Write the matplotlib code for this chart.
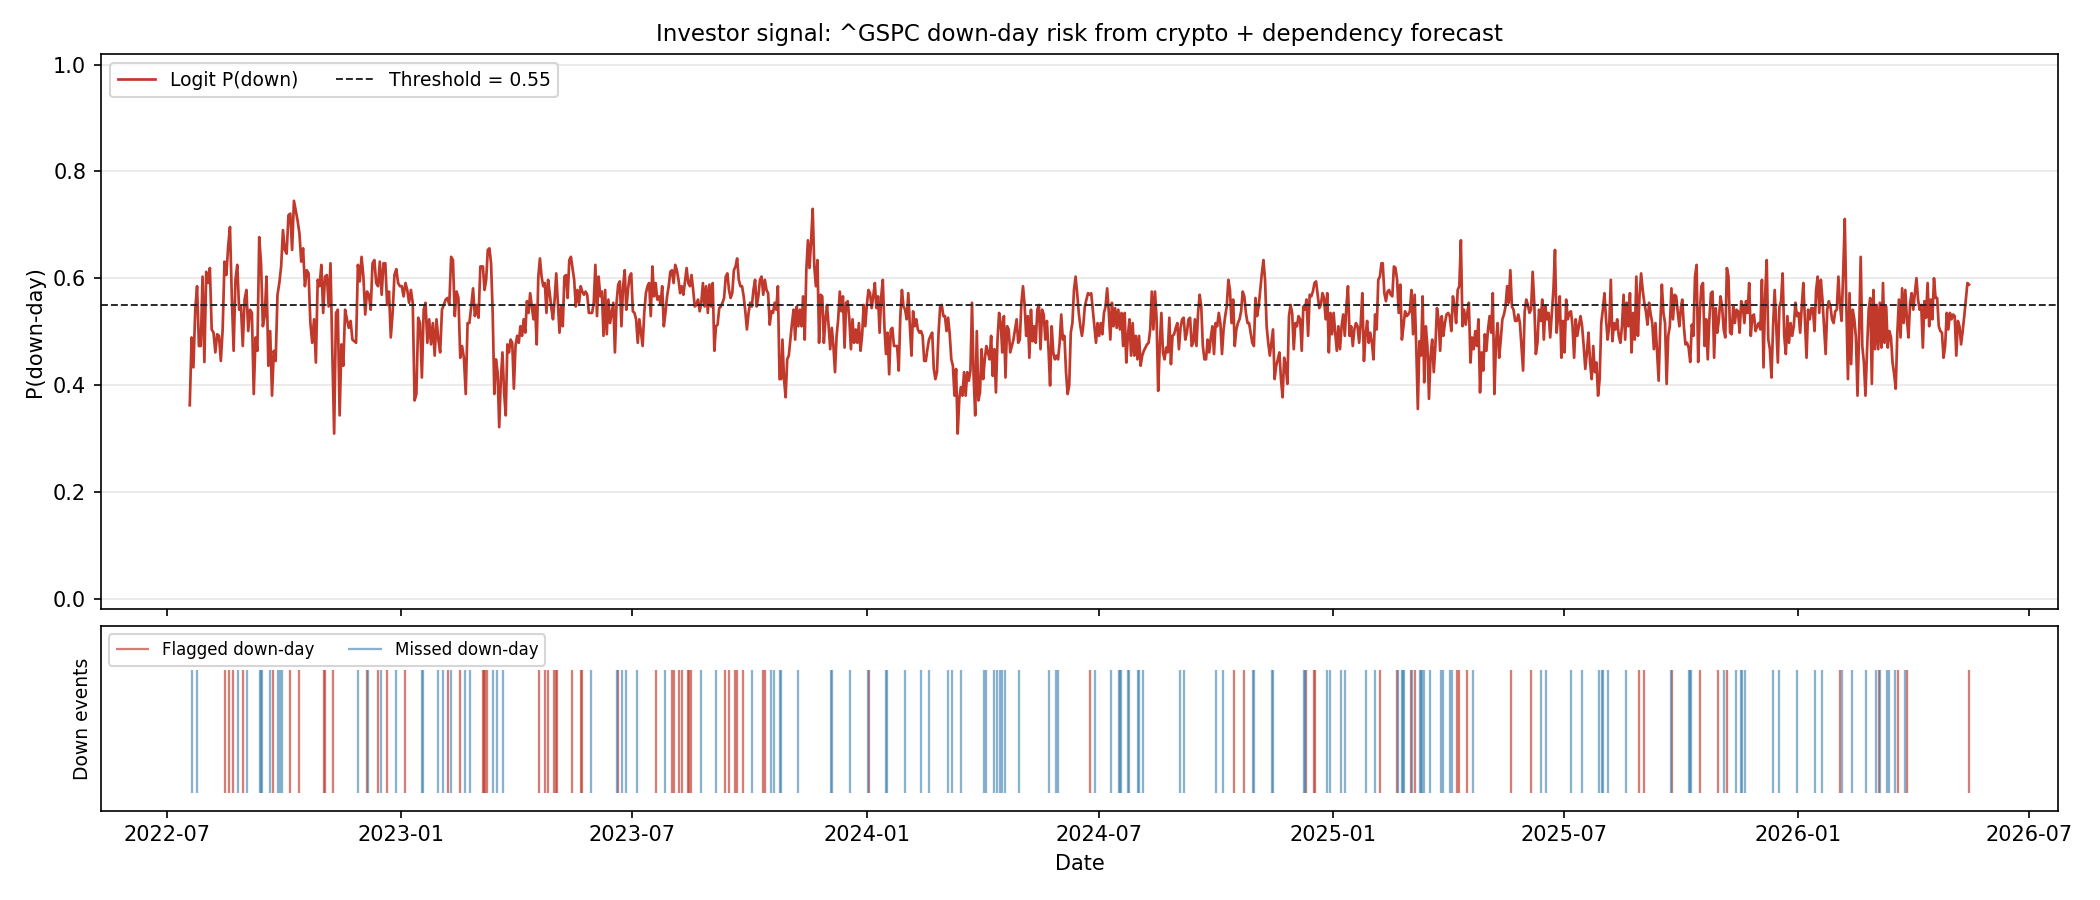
import pandas as pd
import matplotlib
matplotlib.use("Agg")
import matplotlib.pyplot as plt
import matplotlib.dates as mdates

THRESH = 0.55

# окна, в которых снимались значения P(down) (по порядку)
seg_start = ["2022-07-19", "2023-03-06", "2023-10-27", "2024-06-19", "2025-02-09", "2025-10-02"]
seg_end = ["2023-03-04", "2023-10-26", "2024-06-18", "2025-02-08", "2025-10-01", "2026-05-15"]

p_seg1 = [0.362, 0.489, 0.433, 0.541, 0.585, 0.473, 0.473, 0.603, 0.443, 0.612, 0.591, 0.619, 0.504, 0.498,
          0.461, 0.495, 0.492, 0.445, 0.504, 0.631, 0.606, 0.659, 0.696, 0.566, 0.464, 0.597, 0.625, 0.541,
          0.547, 0.473, 0.560, 0.578, 0.501, 0.541, 0.535, 0.383, 0.489, 0.464, 0.677, 0.628, 0.510, 0.529,
          0.603, 0.436, 0.501, 0.380, 0.464, 0.445, 0.569, 0.591, 0.622, 0.690, 0.653, 0.646, 0.718, 0.721,
          0.653, 0.745, 0.727, 0.708, 0.684, 0.631, 0.656, 0.585, 0.615, 0.609, 0.516, 0.479, 0.523, 0.442,
          0.597, 0.585, 0.625, 0.535, 0.603, 0.606, 0.547, 0.628, 0.461, 0.309, 0.535, 0.541, 0.343, 0.476,
          0.436, 0.541, 0.523, 0.507, 0.520, 0.485, 0.482, 0.479, 0.625, 0.594, 0.640, 0.603, 0.532, 0.575,
          0.569, 0.541, 0.628, 0.634, 0.591, 0.585, 0.631, 0.569, 0.628, 0.628, 0.550, 0.575, 0.489, 0.535,
          0.606, 0.617, 0.591, 0.585, 0.585, 0.566, 0.591, 0.578, 0.554, 0.578, 0.554, 0.371, 0.383, 0.526,
          0.516, 0.414, 0.541, 0.554, 0.479, 0.523, 0.476, 0.516, 0.455, 0.523, 0.485, 0.461, 0.541, 0.550,
          0.560, 0.563, 0.550, 0.640, 0.634, 0.529, 0.575, 0.563, 0.451, 0.473, 0.451, 0.383, 0.516, 0.516,
          0.547, 0.581, 0.529, 0.550, 0.526, 0.622]
p_seg2 = [0.622, 0.578, 0.597, 0.653, 0.656, 0.628, 0.535, 0.383, 0.448, 0.424, 0.321, 0.411, 0.461, 0.386,
          0.343, 0.476, 0.461, 0.485, 0.479, 0.393, 0.473, 0.492, 0.479, 0.510, 0.492, 0.523, 0.498, 0.557,
          0.535, 0.572, 0.547, 0.523, 0.550, 0.476, 0.603, 0.637, 0.603, 0.585, 0.591, 0.535, 0.597, 0.572,
          0.544, 0.523, 0.560, 0.609, 0.554, 0.498, 0.547, 0.510, 0.603, 0.606, 0.563, 0.634, 0.640, 0.619,
          0.597, 0.547, 0.578, 0.554, 0.585, 0.575, 0.569, 0.575, 0.569, 0.535, 0.535, 0.535, 0.554, 0.625,
          0.529, 0.603, 0.566, 0.575, 0.492, 0.578, 0.495, 0.560, 0.516, 0.535, 0.554, 0.461, 0.554, 0.588,
          0.594, 0.510, 0.585, 0.615, 0.541, 0.578, 0.603, 0.609, 0.538, 0.535, 0.523, 0.479, 0.523, 0.498,
          0.473, 0.535, 0.572, 0.585, 0.591, 0.529, 0.622, 0.566, 0.591, 0.560, 0.566, 0.550, 0.585, 0.510,
          0.535, 0.566, 0.585, 0.612, 0.615, 0.591, 0.625, 0.615, 0.597, 0.572, 0.585, 0.569, 0.594, 0.619,
          0.591, 0.585, 0.606, 0.578, 0.547, 0.550, 0.560, 0.538, 0.554, 0.591, 0.547, 0.585, 0.535, 0.588,
          0.547, 0.591, 0.464, 0.510, 0.513, 0.544, 0.547, 0.554, 0.563, 0.603, 0.609, 0.578, 0.563, 0.572,
          0.615, 0.622, 0.637, 0.597, 0.585, 0.585, 0.566, 0.538, 0.504, 0.535, 0.554, 0.547, 0.578, 0.597,
          0.547, 0.566, 0.597, 0.603, 0.569, 0.597, 0.578, 0.572, 0.513, 0.538, 0.535, 0.554, 0.541, 0.585,
          0.411, 0.411]
p_seg3 = [0.485, 0.411, 0.377, 0.448, 0.455, 0.485, 0.516, 0.541, 0.485, 0.547, 0.510, 0.541, 0.510, 0.566,
          0.485, 0.615, 0.671, 0.619, 0.671, 0.730, 0.622, 0.585, 0.634, 0.479, 0.569, 0.566, 0.479, 0.523,
          0.550, 0.510, 0.467, 0.507, 0.473, 0.424, 0.492, 0.523, 0.575, 0.538, 0.566, 0.470, 0.554, 0.557,
          0.523, 0.467, 0.523, 0.479, 0.504, 0.479, 0.516, 0.464, 0.492, 0.550, 0.510, 0.550, 0.578, 0.572,
          0.544, 0.566, 0.591, 0.544, 0.566, 0.498, 0.566, 0.597, 0.510, 0.458, 0.498, 0.420, 0.504, 0.507,
          0.473, 0.473, 0.473, 0.427, 0.529, 0.578, 0.547, 0.541, 0.523, 0.572, 0.510, 0.455, 0.538, 0.510,
          0.523, 0.504, 0.498, 0.501, 0.492, 0.445, 0.445, 0.467, 0.485, 0.492, 0.498, 0.430, 0.411, 0.424,
          0.498, 0.547, 0.550, 0.529, 0.529, 0.501, 0.526, 0.495, 0.448, 0.436, 0.380, 0.430, 0.309, 0.374,
          0.396, 0.380, 0.424, 0.380, 0.424, 0.408, 0.427, 0.554, 0.417, 0.343, 0.501, 0.371, 0.386, 0.467,
          0.411, 0.448, 0.473, 0.461, 0.448, 0.492, 0.417, 0.467, 0.386, 0.485, 0.535, 0.516, 0.461, 0.529,
          0.414, 0.510, 0.504, 0.461, 0.473, 0.485, 0.504, 0.523, 0.479, 0.485, 0.554, 0.585, 0.550, 0.492,
          0.529, 0.451, 0.541, 0.482, 0.510, 0.479, 0.541, 0.550, 0.467, 0.541, 0.532, 0.485, 0.520, 0.467,
          0.399, 0.510, 0.461, 0.448, 0.455, 0.448, 0.479, 0.532, 0.485, 0.492, 0.424, 0.383, 0.399, 0.498,
          0.516, 0.578, 0.603, 0.572, 0.535, 0.510, 0.492]
p_seg4 = [0.510, 0.547, 0.560, 0.572, 0.569, 0.572, 0.541, 0.510, 0.479, 0.516, 0.492, 0.516, 0.495, 0.535,
          0.547, 0.581, 0.538, 0.485, 0.554, 0.510, 0.544, 0.507, 0.541, 0.504, 0.535, 0.473, 0.535, 0.442,
          0.492, 0.523, 0.455, 0.516, 0.455, 0.492, 0.448, 0.492, 0.436, 0.455, 0.464, 0.470, 0.476, 0.479,
          0.504, 0.575, 0.504, 0.575, 0.523, 0.389, 0.473, 0.535, 0.461, 0.448, 0.470, 0.461, 0.526, 0.439,
          0.492, 0.495, 0.507, 0.516, 0.467, 0.507, 0.523, 0.526, 0.485, 0.498, 0.523, 0.526, 0.473, 0.479,
          0.523, 0.473, 0.535, 0.569, 0.547, 0.473, 0.448, 0.448, 0.485, 0.461, 0.489, 0.510, 0.458, 0.516,
          0.510, 0.535, 0.516, 0.458, 0.504, 0.529, 0.547, 0.597, 0.578, 0.516, 0.560, 0.473, 0.504, 0.516,
          0.523, 0.538, 0.575, 0.566, 0.535, 0.516, 0.516, 0.498, 0.479, 0.473, 0.563, 0.529, 0.547, 0.578,
          0.609, 0.634, 0.597, 0.510, 0.479, 0.455, 0.479, 0.504, 0.411, 0.436, 0.448, 0.461, 0.411, 0.377,
          0.451, 0.436, 0.402, 0.529, 0.550, 0.535, 0.467, 0.516, 0.510, 0.529, 0.523, 0.464, 0.547, 0.541,
          0.560, 0.492, 0.569, 0.566, 0.575, 0.591, 0.594, 0.569, 0.544, 0.550, 0.572, 0.563, 0.523, 0.572,
          0.461, 0.535, 0.495, 0.535, 0.498, 0.464, 0.510, 0.467, 0.510, 0.532, 0.492, 0.547, 0.585, 0.492,
          0.510, 0.473, 0.504, 0.516, 0.510, 0.479, 0.516, 0.572, 0.445, 0.492, 0.520, 0.479, 0.498, 0.479,
          0.448, 0.532, 0.504, 0.597, 0.603, 0.628]
p_seg5 = [0.628, 0.572, 0.557, 0.575, 0.578, 0.569, 0.566, 0.622, 0.619, 0.597, 0.535, 0.588, 0.485, 0.510,
          0.538, 0.529, 0.532, 0.538, 0.578, 0.495, 0.569, 0.473, 0.355, 0.482, 0.455, 0.566, 0.405, 0.510,
          0.473, 0.374, 0.455, 0.485, 0.424, 0.473, 0.544, 0.523, 0.464, 0.529, 0.492, 0.516, 0.532, 0.535,
          0.529, 0.501, 0.566, 0.547, 0.516, 0.578, 0.585, 0.671, 0.510, 0.541, 0.513, 0.535, 0.554, 0.442,
          0.489, 0.467, 0.501, 0.473, 0.523, 0.386, 0.461, 0.427, 0.495, 0.464, 0.504, 0.529, 0.498, 0.572,
          0.383, 0.479, 0.516, 0.451, 0.485, 0.523, 0.532, 0.547, 0.585, 0.554, 0.615, 0.547, 0.541, 0.520,
          0.520, 0.532, 0.516, 0.470, 0.427, 0.538, 0.560, 0.550, 0.535, 0.541, 0.612, 0.554, 0.458, 0.479,
          0.541, 0.520, 0.560, 0.485, 0.547, 0.523, 0.535, 0.489, 0.535, 0.578, 0.653, 0.498, 0.529, 0.566,
          0.451, 0.520, 0.461, 0.560, 0.523, 0.535, 0.538, 0.510, 0.451, 0.523, 0.492, 0.510, 0.529, 0.510,
          0.473, 0.430, 0.461, 0.498, 0.442, 0.411, 0.473, 0.424, 0.442, 0.380, 0.411, 0.516, 0.541, 0.572,
          0.523, 0.485, 0.510, 0.597, 0.482, 0.516, 0.504, 0.523, 0.492, 0.479, 0.510, 0.569, 0.485, 0.554,
          0.510, 0.572, 0.461, 0.535, 0.485, 0.603, 0.492, 0.566, 0.609, 0.578, 0.554, 0.538, 0.513, 0.554,
          0.532, 0.516, 0.467, 0.516, 0.461, 0.408, 0.510, 0.588, 0.535, 0.516, 0.402, 0.492, 0.510, 0.581,
          0.523, 0.569, 0.566, 0.535, 0.510, 0.547]
p_seg6 = [0.560, 0.510, 0.476, 0.479, 0.470, 0.443, 0.513, 0.492, 0.603, 0.625, 0.443, 0.535, 0.585, 0.591,
          0.473, 0.523, 0.448, 0.523, 0.572, 0.575, 0.451, 0.544, 0.498, 0.523, 0.566, 0.547, 0.504, 0.489,
          0.619, 0.603, 0.498, 0.495, 0.547, 0.516, 0.541, 0.538, 0.498, 0.557, 0.547, 0.516, 0.557, 0.535,
          0.591, 0.492, 0.529, 0.532, 0.501, 0.510, 0.516, 0.504, 0.597, 0.433, 0.566, 0.634, 0.485, 0.467,
          0.414, 0.510, 0.578, 0.510, 0.442, 0.547, 0.557, 0.609, 0.492, 0.458, 0.529, 0.479, 0.516, 0.492,
          0.510, 0.554, 0.529, 0.535, 0.498, 0.547, 0.591, 0.523, 0.451, 0.541, 0.523, 0.544, 0.544, 0.501,
          0.578, 0.603, 0.535, 0.597, 0.560, 0.510, 0.458, 0.541, 0.557, 0.547, 0.523, 0.516, 0.538, 0.541,
          0.603, 0.550, 0.520, 0.609, 0.711, 0.547, 0.411, 0.572, 0.439, 0.541, 0.523, 0.489, 0.380, 0.498,
          0.640, 0.473, 0.442, 0.380, 0.467, 0.541, 0.563, 0.402, 0.578, 0.467, 0.550, 0.467, 0.554, 0.470,
          0.591, 0.479, 0.547, 0.470, 0.501, 0.489, 0.442, 0.420, 0.393, 0.498, 0.560, 0.489, 0.581, 0.516,
          0.578, 0.523, 0.489, 0.554, 0.572, 0.541, 0.572, 0.600, 0.560, 0.541, 0.550, 0.470, 0.557, 0.526,
          0.591, 0.510, 0.560, 0.523, 0.600, 0.563, 0.563, 0.510, 0.501, 0.498, 0.451, 0.473, 0.535, 0.504,
          0.535, 0.523, 0.532, 0.529, 0.455, 0.520, 0.510, 0.476, 0.501, 0.529, 0.560, 0.591, 0.588]

flagged = ["2022-08-16", "2022-08-19", "2022-08-22", "2022-08-30", "2022-09-22", "2022-10-06", "2022-10-13",
           "2022-11-01", "2022-11-02", "2022-11-08", "2022-12-05", "2022-12-14", "2022-12-21",
           "2023-01-04", "2023-02-07", "2023-02-16", "2023-03-06", "2023-03-07", "2023-03-08", "2023-03-09",
           "2023-04-19", "2023-04-24", "2023-04-26", "2023-05-01", "2023-05-02", "2023-05-03", "2023-05-15",
           "2023-05-22", "2023-05-23", "2023-06-20", "2023-07-20", "2023-08-01", "2023-08-03", "2023-08-07",
           "2023-08-09", "2023-08-14", "2023-08-15", "2023-08-16", "2023-09-12", "2023-09-15", "2023-09-20",
           "2023-09-21", "2023-09-26", "2023-10-12", "2023-10-13",
           "2024-01-03", "2024-06-24", "2024-10-15", "2024-10-23", "2024-12-11", "2024-12-17", "2024-12-18",
           "2025-02-07", "2025-02-20", "2025-03-03", "2025-03-06", "2025-04-08", "2025-04-10", "2025-04-16",
           "2025-05-21", "2025-06-05", "2025-08-29", "2025-09-02", "2025-09-24", "2025-10-16", "2025-10-30",
           "2025-11-06", "2026-02-03", "2026-03-05", "2026-03-20", "2026-03-27", "2026-05-15"]
missed = ["2022-07-21", "2022-07-25", "2022-08-26", "2022-09-02", "2022-09-12", "2022-09-13", "2022-09-14",
          "2022-09-20", "2022-09-26", "2022-09-28", "2022-09-29", "2022-11-28", "2022-12-06", "2022-12-16",
          "2022-12-28", "2023-01-17", "2023-01-18", "2023-01-30", "2023-02-03", "2023-02-09", "2023-02-20",
          "2023-02-24", "2023-03-14", "2023-03-17", "2023-03-22", "2023-05-30", "2023-06-19", "2023-06-23",
          "2023-06-26", "2023-07-05", "2023-07-27", "2023-08-24", "2023-09-05", "2023-10-03", "2023-10-18",
          "2023-10-20", "2023-10-25", "2023-10-26", "2023-11-08", "2023-12-04", "2023-12-05", "2023-12-19",
          "2024-01-02", "2024-01-16", "2024-01-17", "2024-01-31", "2024-02-13", "2024-02-19", "2024-03-05",
          "2024-03-08", "2024-03-15", "2024-04-02", "2024-04-04", "2024-04-10", "2024-04-12", "2024-04-15",
          "2024-04-16", "2024-04-19", "2024-04-30", "2024-05-23", "2024-05-29", "2024-05-30", "2024-06-28",
          "2024-07-11", "2024-07-17", "2024-07-18", "2024-07-19", "2024-07-24", "2024-07-25", "2024-08-01",
          "2024-08-02", "2024-08-05", "2024-09-03", "2024-09-06", "2024-10-01", "2024-10-07", "2024-10-30",
          "2024-10-31", "2024-11-14", "2024-11-15", "2024-12-09", "2024-12-10", "2024-12-27", "2024-12-30",
          "2025-01-07", "2025-01-10", "2025-01-27", "2025-02-03", "2025-02-21", "2025-02-24", "2025-02-25",
          "2025-02-26", "2025-03-04", "2025-03-10", "2025-03-11", "2025-03-12", "2025-03-13", "2025-03-18",
          "2025-03-27", "2025-03-28", "2025-04-03", "2025-04-04", "2025-04-21", "2025-06-13", "2025-06-17",
          "2025-07-07", "2025-07-15", "2025-07-29", "2025-07-31", "2025-08-01", "2025-08-05", "2025-08-19",
          "2025-09-23", "2025-10-07", "2025-10-08", "2025-10-09", "2025-11-04", "2025-11-13", "2025-11-17",
          "2025-11-18", "2025-11-20", "2025-12-12", "2025-12-17", "2025-12-31", "2026-01-14", "2026-01-20",
          "2026-02-04", "2026-02-12", "2026-02-23", "2026-03-03", "2026-03-06", "2026-03-12", "2026-03-13",
          "2026-03-18", "2026-03-26"]

segs = [p_seg1, p_seg2, p_seg3, p_seg4, p_seg5, p_seg6]
dates = []
probs = []
for s, e, vals in zip(seg_start, seg_end, segs):
    dates.extend(pd.date_range(s, e, periods=len(vals)))
    probs.extend(vals)
dates = pd.DatetimeIndex(dates)

fig, (ax, ax2) = plt.subplots(2, 1, figsize=(14, 6), dpi=150, sharex=True,
                              gridspec_kw={'height_ratios': [3, 1]})
fig.subplots_adjust(left=0.048, right=0.980, top=0.94, bottom=0.099, hspace=0.045)

# верхний график: вероятность и порог
ax.plot(dates, probs, color='#c0392b', lw=1.3, label='Logit P(down)')
ax.axhline(THRESH, color='#222222', ls='--', lw=0.9, label=f'Threshold = {THRESH}')
ax.set_ylim(-0.02, 1.02)
ax.set_ylabel('P(down-day)')
ax.set_title('Investor signal: ^GSPC down-day risk from crypto + dependency forecast', fontsize=11)
ax.grid(axis='y', alpha=0.3)
ax.legend(loc='upper left', ncol=2, fontsize=9)

# нижний график: дни падения
ax2.vlines(pd.to_datetime(flagged), 0, 1, color='#c0392b', alpha=0.65, lw=1.1, label='Flagged down-day')
ax2.vlines(pd.to_datetime(missed), 0, 1, color='#3a7fb0', alpha=0.6, lw=1.1, label='Missed down-day')
ax2.set_ylim(-0.15, 1.36)
ax2.set_yticks([])
ax2.set_ylabel('Down events', fontsize=9)
ax2.set_xlabel('Date')
ax2.legend(loc='upper left', ncol=2, fontsize=8)
ax2.xaxis.set_major_locator(mdates.MonthLocator(bymonth=[1, 7]))
ax2.xaxis.set_major_formatter(mdates.DateFormatter('%Y-%m'))

plt.savefig('out.png')
